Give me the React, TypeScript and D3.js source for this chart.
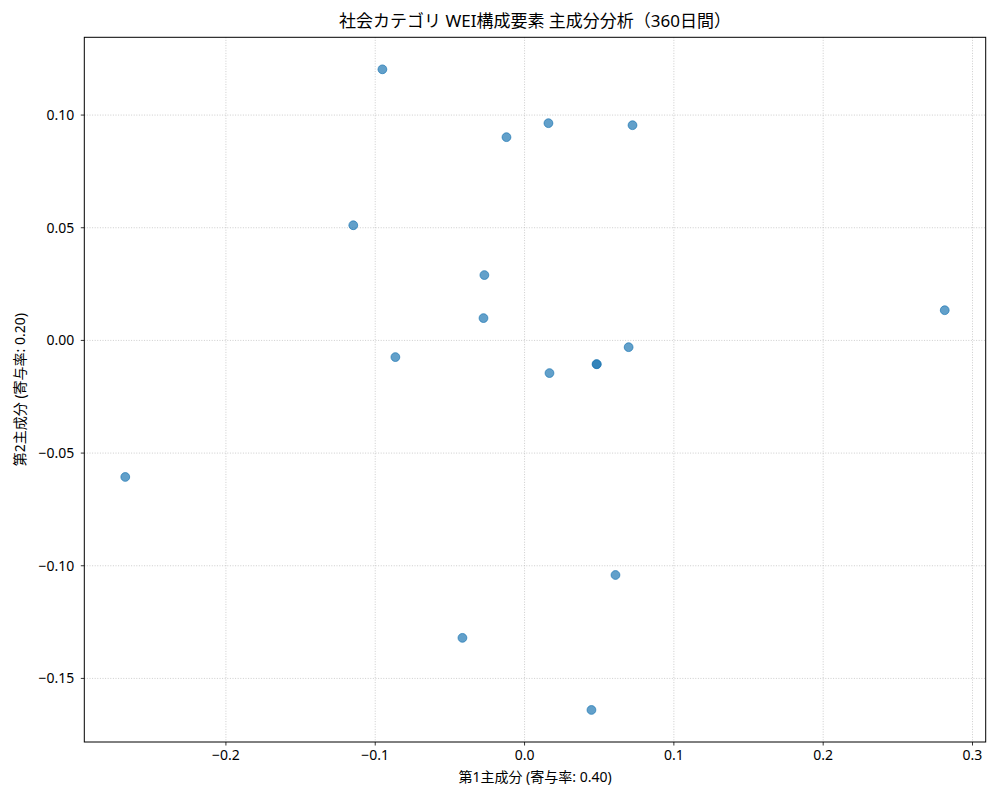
import React from "react";
import * as d3 from "d3";

const pc1: number[] = [-0.0952, -0.0121, 0.0160, 0.0723, -0.1147, -0.0269, -0.0275, 0.2814, 0.0697, -0.0865, 0.0482, 0.0484, 0.0167, -0.2674, 0.0609, -0.0416, 0.0448];
const pc2: number[] = [0.1203, 0.0902, 0.0964, 0.0955, 0.0511, 0.0290, 0.0099, 0.0134, -0.0030, -0.0074, -0.0105, -0.0106, -0.0145, -0.0606, -0.1041, -0.1320, -0.1640];

const xTicks: number[] = [-0.2, -0.1, 0.0, 0.1, 0.2, 0.3];
const yTicks: number[] = [-0.15, -0.1, -0.05, 0.0, 0.05, 0.1];

const title = "社会カテゴリ WEI構成要素 主成分分析（360日間）";
const xLabel = "第1主成分 (寄与率: 0.40)";
const yLabel = "第2主成分 (寄与率: 0.20)";

const W = 1000, H = 800;
const L = 84.3, R = 985.7, T = 37.3, B = 742;
const FONT = "'Noto Sans', 'Noto Sans CJK JP', sans-serif";

function pad(ext: [number, number]): [number, number] {
  const r = ext[1] - ext[0];
  return [ext[0] - 0.05 * r, ext[1] + 0.05 * r];
}

const fmt = (v: number, d: number) => {
  const s = v.toFixed(d);
  return s.startsWith("-") ? "\u2212" + s.slice(1) : s;
};

export default function App() {
  const x = d3.scaleLinear().domain(pad(d3.extent(pc1) as [number, number])).range([L, R]);
  const y = d3.scaleLinear().domain(pad(d3.extent(pc2) as [number, number])).range([B, T]);
  const pts = pc1.map((v, i) => ({ x: v, y: pc2[i] }));
  return (
    <svg width={W} height={H} style={{ position: "absolute", left: 0, top: 0, background: "#fff" }} fontFamily={FONT}>
      <rect x={0} y={0} width={W} height={H} fill="#fff" />
      {xTicks.map((t) => (
        <line key={"gx" + t} x1={x(t)} x2={x(t)} y1={T} y2={B} stroke="#b0b0b0" strokeOpacity={0.8} strokeWidth={0.8} strokeDasharray="1,1.6" />
      ))}
      {yTicks.map((t) => (
        <line key={"gy" + t} x1={L} x2={R} y1={y(t)} y2={y(t)} stroke="#b0b0b0" strokeOpacity={0.8} strokeWidth={0.8} strokeDasharray="1,1.6" />
      ))}
      {pts.map((p, i) => (
        <circle key={i} cx={x(p.x)} cy={y(p.y)} r={4.4} fill="#1f77b4" fillOpacity={0.7} stroke="#1f77b4" strokeOpacity={0.7} strokeWidth={1} />
      ))}
      <rect x={L} y={T} width={R - L} height={B - T} fill="none" stroke="#000" strokeWidth={1} />
      {xTicks.map((t) => (
        <g key={"tx" + t}>
          <line x1={x(t)} x2={x(t)} y1={B} y2={B + 3.5} stroke="#000" strokeWidth={0.8} />
          <text x={x(t)} y={B + 8} dy="0.71em" textAnchor="middle" fontSize={14} fill="#000">{fmt(t, 1)}</text>
        </g>
      ))}
      {yTicks.map((t) => (
        <g key={"ty" + t}>
          <line x1={L - 3.5} x2={L} y1={y(t)} y2={y(t)} stroke="#000" strokeWidth={0.8} />
          <text x={L - 10} y={y(t)} dy="0.35em" textAnchor="end" fontSize={14} fill="#000">{fmt(t, 2)}</text>
        </g>
      ))}
      <text x={(L + R) / 2} y={777} dy="0.35em" textAnchor="middle" fontSize={14} fill="#000">{xLabel}</text>
      <text transform={`translate(20,${(T + B) / 2}) rotate(-90)`} dy="0.35em" textAnchor="middle" fontSize={14} fill="#000">{yLabel}</text>
      <text x={(L + R) / 2} y={21} dy="0.35em" textAnchor="middle" fontSize={17} fill="#000">{title}</text>
    </svg>
  );
}
